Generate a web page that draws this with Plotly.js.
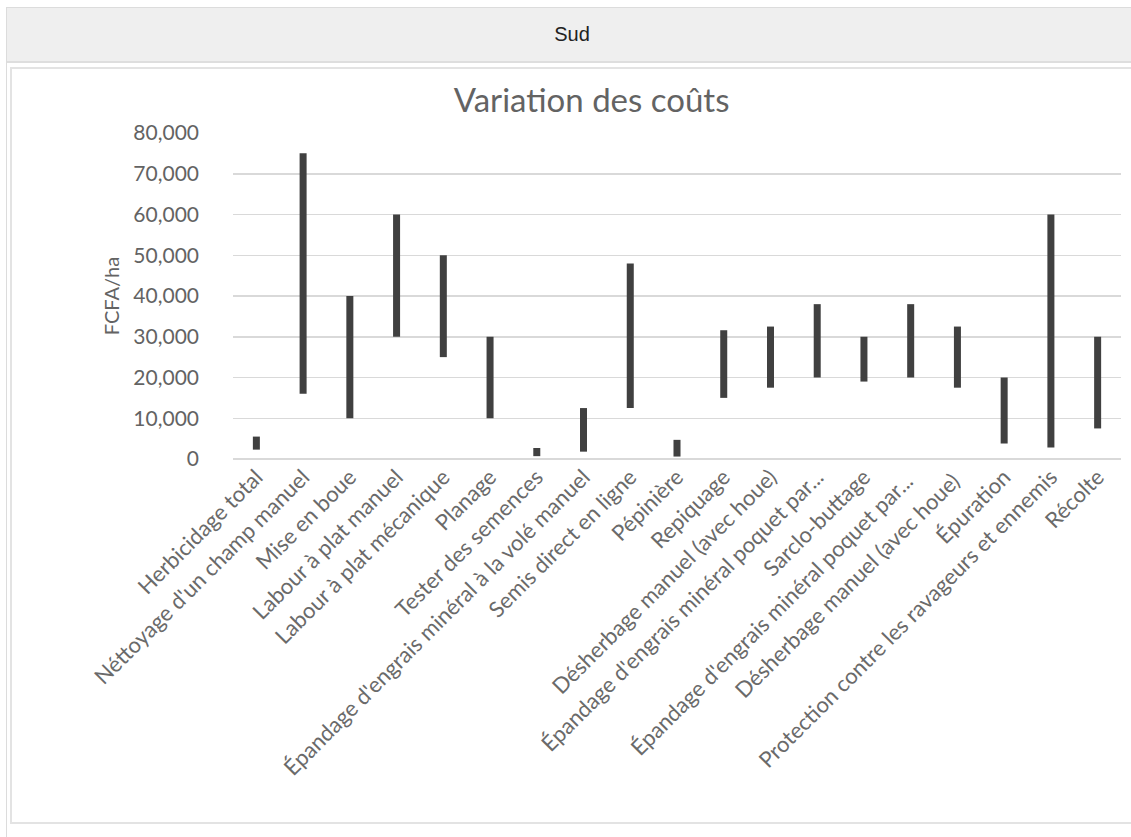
<!DOCTYPE html>
<html>
<head>
<meta charset="utf-8">
<script src="https://cdn.plot.ly/plotly-3.0.1.min.js"></script>
<style>
  body { margin: 0; background: #fff; width: 1131px; height: 837px; overflow: hidden; position: relative; }
  #outer { position: absolute; left: 6px; top: 7px; width: 1140px; height: 840px;
           border-left: 1px solid #dcdcdc; border-top: 1px solid #dcdcdc; }
  #header { position: absolute; left: 7px; top: 8px; width: 1130px; height: 53px; background: #efefef;
            border-bottom: 2px solid #dedede; font-family: "Liberation Sans", Arial, sans-serif;
            font-size: 20px; color: #222; text-align: center; line-height: 52px; }
  #box { position: absolute; left: 10px; top: 67px; width: 1140px; height: 753px;
         border: 2px solid #e3e3e3; }
  #chart { position: absolute; left: 12px; top: 69px; width: 1119px; height: 753px; }
</style>
</head>
<body>
<div id="outer"></div>
<div id="header">Sud</div>
<div id="box"></div>
<div id="chart"></div>
<script>
// Operations (tick labels) and cost range in FCFA/ha
const operations = [
  "Herbicidage total",
  "Néttoyage d'un champ manuel",
  "Mise en boue",
  "Labour à plat manuel",
  "Labour à plat mécanique",
  "Planage",
  "Tester des semences",
  "Épandage d'engrais minéral à la volé manuel",
  "Semis direct en ligne",
  "Pépinière",
  "Repiquage",
  "Désherbage manuel (avec houe)",
  "Épandage d'engrais minéral poquet par...",
  "Sarclo-buttage",
  "Épandage d'engrais minéral poquet par... ",
  "Désherbage manuel (avec houe) ",
  "Épuration",
  "Protection contre les ravageurs et ennemis",
  "Récolte"
];
const costMin = [2300, 16000, 10000, 30000, 25000, 10000, 700, 1800, 12500, 600,
                 15000, 17500, 20000, 19000, 20000, 17500, 3800, 2800, 7500];
const costMax = [5500, 75000, 40000, 60000, 50000, 30000, 2700, 12500, 48000, 4700,
                 31600, 32500, 38000, 30000, 38000, 32500, 20000, 60000, 30000];

const spread = costMax.map((v, i) => v - costMin[i]);

const trace = {
  type: 'bar',
  x: operations,
  y: spread,
  base: costMin,
  width: 0.15,
  marker: { color: '#404040' },
  hoverinfo: 'skip'
};

const layout = {
  width: 1119,
  height: 753,
  paper_bgcolor: 'rgba(0,0,0,0)',
  plot_bgcolor: 'rgba(0,0,0,0)',
  margin: { l: 221, r: 10, t: 64, b: 363 },
  showlegend: false,
  font: { family: 'Lato, "Open Sans", sans-serif', color: '#636363', size: 16 },
  title: {
    text: 'Variation des coûts',
    font: { size: 33, color: '#636363' },
    xref: 'container', x: 0.518, xanchor: 'center',
    yref: 'container', y: 0.958, yanchor: 'middle'
  },
  xaxis: {
    tickangle: -45,
    tickfont: { size: 22, color: '#6a6a6a' },
    showgrid: false,
    showline: false,
    ticks: '',
    automargin: false
  },
  yaxis: {
    range: [0, 80000],
    dtick: 10000,
    tickformat: ',d',
    tickfont: { size: 21, color: '#636363' },
    gridcolor: '#d9d9d9',
    gridwidth: 1.5,
    zeroline: true,
    zerolinecolor: '#d9d9d9',
    zerolinewidth: 1.5,
    ticks: '',
    ticklabelstandoff: 33,
    automargin: false,
    title: { text: 'FCFA/ha', font: { size: 20, color: '#636363' }, standoff: 8 }
  }
};

Plotly.newPlot('chart', [trace], layout, { displayModeBar: false, staticPlot: true });
</script>
</body>
</html>
